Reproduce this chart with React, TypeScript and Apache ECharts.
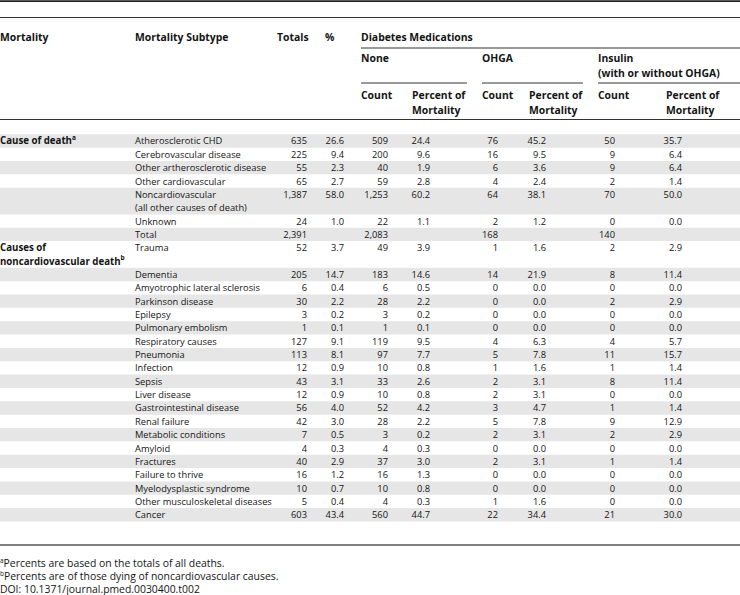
import React, { useEffect, useRef } from "react";
import * as echarts from "echarts";

// ---- data ----
const groupLabels = ["Cause of death", "Causes of\nnoncardiovascular death"];
const groupNotes = ["a", "b"];
const groupStartRow = [0, 7];

const subtypes = [
  "Atherosclerotic CHD",
  "Cerebrovascular disease",
  "Other artherosclerotic disease",
  "Other cardiovascular",
  "Noncardiovascular\n(all other causes of death)",
  "Unknown",
  "Total",
  "Trauma",
  "Dementia",
  "Amyotrophic lateral sclerosis",
  "Parkinson disease",
  "Epilepsy",
  "Pulmonary embolism",
  "Respiratory causes",
  "Pneumonia",
  "Infection",
  "Sepsis",
  "Liver disease",
  "Gastrointestinal disease",
  "Renal failure",
  "Metabolic conditions",
  "Amyloid",
  "Fractures",
  "Failure to thrive",
  "Myelodysplastic syndrome",
  "Other musculoskeletal diseases",
  "Cancer",
];
const totals = [635, 225, 55, 65, 1387, 24, 2391, 52, 205, 6, 30, 3, 1, 127, 113, 12, 43, 12, 56, 42, 7, 4, 40, 16, 10, 5, 603];
const totalsPct = [26.6, 9.4, 2.3, 2.7, 58.0, 1.0, null, 3.7, 14.7, 0.4, 2.2, 0.2, 0.1, 9.1, 8.1, 0.9, 3.1, 0.9, 4.0, 3.0, 0.5, 0.3, 2.9, 1.2, 0.7, 0.4, 43.4];
const noneCount = [509, 200, 40, 59, 1253, 22, 2083, 49, 183, 6, 28, 3, 1, 119, 97, 10, 33, 10, 52, 28, 3, 4, 37, 16, 10, 4, 560];
const nonePct = [24.4, 9.6, 1.9, 2.8, 60.2, 1.1, null, 3.9, 14.6, 0.5, 2.2, 0.2, 0.1, 9.5, 7.7, 0.8, 2.6, 0.8, 4.2, 2.2, 0.2, 0.3, 3.0, 1.3, 0.8, 0.3, 44.7];
const ohgaCount = [76, 16, 6, 4, 64, 2, 168, 1, 14, 0, 0, 0, 0, 4, 5, 1, 2, 2, 3, 5, 2, 0, 2, 0, 0, 1, 22];
const ohgaPct = [45.2, 9.5, 3.6, 2.4, 38.1, 1.2, null, 1.6, 21.9, 0.0, 0.0, 0.0, 0.0, 6.3, 7.8, 1.6, 3.1, 3.1, 4.7, 7.8, 3.1, 0.0, 3.1, 0.0, 0.0, 1.6, 34.4];
const insulinCount = [50, 9, 9, 2, 70, 0, 140, 2, 8, 0, 2, 0, 0, 4, 11, 1, 8, 0, 1, 9, 2, 0, 1, 0, 0, 0, 21];
const insulinPct = [35.7, 6.4, 6.4, 1.4, 50.0, 0.0, null, 2.9, 11.4, 0.0, 2.9, 0.0, 0.0, 5.7, 15.7, 1.4, 11.4, 0.0, 1.4, 12.9, 2.9, 0.0, 1.4, 0.0, 0.0, 0.0, 30.0];

const headerTop = ["Mortality", "Mortality Subtype", "Totals", "%"];
const spanHeader = "Diabetes Medications";
const medGroups = ["None", "OHGA", "Insulin\n(with or without OHGA)"];
const subHeaders = ["Count", "Percent of\nMortality"];
const footnoteMarks = ["a", "b", ""];
const footnoteTexts = [
  "Percents are based on the totals of all deaths.",
  "Percents are of those dying of noncardiovascular causes.",
  "DOI: 10.1371/journal.pmed.0030400.t002",
];

// ---- layout ----
const W = 740;
const H = 595;
const FONT = '"Open Sans", "Noto Sans", sans-serif';
const BODY_SIZE = 9.3;
const HEAD_SIZE = 10.4;
const GROUP_SIZE = 9.7;
const FOOT_SIZE = 10.4;
const LINE = 13.35;
const FIRST_ROW_TOP = 134.3;
const TXT = "#141414";
const STRIPE = "#e6e6e6";
const RULE = "#2b2b2b";

const colRight = [307, 344, 388, 430, 498, 546, 615, 682];
const colValues = [totals, totalsPct, noneCount, nonePct, ohgaCount, ohgaPct, insulinCount, insulinPct];
const colIsPct = [false, true, false, true, false, true, false, true];
const medX = [361, 482, 598];
const medLineEnd = [467, 583, 740];
const subX = [[361, 412], [482, 529], [598, 666]];

function fmt(v: number | null, pct: boolean): string {
  if (v === null || v === undefined) return "";
  return pct ? v.toFixed(1) : v.toLocaleString("en-US");
}

function rowLines(i: number): number {
  let n = subtypes[i].split("\n").length;
  const g = groupStartRow.indexOf(i);
  if (g >= 0) n = Math.max(n, groupLabels[g].split("\n").length);
  return n;
}

const rowTops: number[] = [];
{
  let y = FIRST_ROW_TOP;
  for (let i = 0; i < subtypes.length; i++) {
    rowTops.push(y);
    y += rowLines(i) * LINE;
  }
}

function richLabel(label: string, note: string): string {
  const parts = label.split("\n").map((p) => `{b|${p}}`);
  if (note) parts[parts.length - 1] += `{s|${note}}`;
  return parts.join("\n");
}

export default function App() {
  const ref = useRef<HTMLDivElement>(null);
  useEffect(() => {
    if (!ref.current) return;
    const chart = echarts.init(ref.current, undefined, { renderer: "svg" });

    const graphics: any[] = [];
    const hline = (y: number, x1: number, x2: number, w: number, c = RULE) =>
      graphics.push({
        type: "line",
        silent: true,
        z: 10,
        shape: { x1, y1: y, x2, y2: y },
        style: { stroke: c, lineWidth: w },
      });
    const headText = (text: string, x: number, yCenterFirst: number) =>
      graphics.push({
        type: "text",
        silent: true,
        z: 10,
        style: {
          text,
          x,
          y: yCenterFirst - 7.5,
          fill: TXT,
          fontFamily: FONT,
          fontSize: HEAD_SIZE,
          fontWeight: "bold",
          lineHeight: 15,
          verticalAlign: "top",
          align: "left",
        },
      });

    hline(1.2, 0, W, 1.8, "#222");
    hline(17.5, 0, W, 1, "#333");
    headText(headerTop[0], 0, 37);
    headText(headerTop[1], 135, 37);
    headText(headerTop[2], 277, 37);
    headText(headerTop[3], 325, 37);
    headText(spanHeader, medX[0], 37);
    hline(48, medX[0], W, 1, "#333");
    medGroups.forEach((g, k) => {
      headText(g, medX[k], 58);
      hline(83, medX[k], medLineEnd[k], 1, "#333");
      subHeaders.forEach((s, j) => headText(s, subX[k][j], 95));
    });
    hline(119.5, 0, W, 1, "#333");
    hline(545, 0, W, 1.4, "#555");

    footnoteTexts.forEach((t, k) => {
      graphics.push({
        type: "text",
        silent: true,
        style: {
          text: footnoteMarks[k] ? `{s|${footnoteMarks[k]}}{n|${t}}` : `{n|${t}}`,
          x: 0,
          y: 562.5 + k * 13 - 6,
          verticalAlign: "top",
          align: "left",
          fill: TXT,
          rich: {
            n: { fontFamily: FONT, fontSize: FOOT_SIZE, lineHeight: 12, fill: TXT },
            s: { fontFamily: FONT, fontSize: 6.5, lineHeight: 7, verticalAlign: "top", fill: TXT },
          },
        },
      });
    });

    const option: any = {
      animation: false,
      grid: { left: 0, right: 0, top: 0, bottom: 0 },
      xAxis: { type: "value", min: 0, max: W, show: false },
      yAxis: { type: "value", min: 0, max: H, inverse: true, show: false },
      graphic: graphics,
      series: [
        {
          type: "custom",
          clip: false,
          silent: true,
          data: subtypes.map((_, i) => [i, rowTops[i]]),
          renderItem: (params: any, api: any) => {
            const i = params.dataIndex;
            const top = rowTops[i];
            const h = rowLines(i) * LINE;
            const [x0, y0] = api.coord([0, top]);
            const [x1, y1] = api.coord([W, top + h]);
            const children: any[] = [];
            if (i % 2 === 0) {
              children.push({
                type: "rect",
                shape: { x: x0, y: y0, width: x1 - x0, height: y1 - y0 },
                style: { fill: STRIPE },
              });
            }
            const g = groupStartRow.indexOf(i);
            if (g >= 0) {
              const [gx, gy] = api.coord([0, top]);
              children.push({
                type: "text",
                style: {
                  text: richLabel(groupLabels[g], groupNotes[g]),
                  x: gx,
                  y: gy,
                  align: "left",
                  verticalAlign: "top",
                  fill: TXT,
                  rich: {
                    b: { fontFamily: FONT, fontSize: GROUP_SIZE, fontWeight: "bold", lineHeight: LINE, fill: TXT },
                    s: { fontFamily: FONT, fontSize: 6.5, fontWeight: "bold", lineHeight: 7, verticalAlign: "top", fill: TXT },
                  },
                },
              });
            }
            const [sx, sy] = api.coord([135, top]);
            children.push({
              type: "text",
              style: {
                text: subtypes[i],
                x: sx,
                y: sy,
                align: "left",
                verticalAlign: "top",
                fontFamily: FONT,
                fontSize: BODY_SIZE,
                lineHeight: LINE,
                fill: TXT,
              },
            });
            colValues.forEach((arr, c) => {
              const t = fmt(arr[i] as any, colIsPct[c]);
              if (!t) return;
              const [cx, cy] = api.coord([colRight[c], top]);
              children.push({
                type: "text",
                style: {
                  text: t,
                  x: cx,
                  y: cy,
                  align: "right",
                  verticalAlign: "top",
                  fontFamily: FONT,
                  fontSize: BODY_SIZE,
                  lineHeight: LINE,
                  fill: TXT,
                },
              });
            });
            return { type: "group", children };
          },
        },
      ],
    };
    chart.setOption(option);
    return () => chart.dispose();
  }, []);
  return (
    <div
      ref={ref}
      style={{ position: "fixed", left: 0, top: 0, width: W, height: H, background: "#fff" }}
    />
  );
}
